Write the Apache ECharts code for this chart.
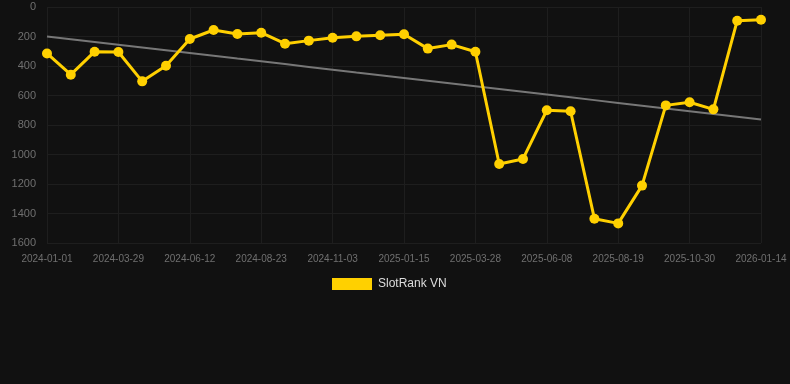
<!DOCTYPE html>
<html><head><meta charset="utf-8">
<script src="https://cdn.jsdelivr.net/npm/echarts@6/dist/echarts.min.js"></script>
<style>html,body{margin:0;padding:0;background:#111111;}#c{width:790px;height:384px;}</style>
</head><body><div id="c"></div>
<script>
const categories = ["2024-01-01","2024-01-30","2024-02-28","2024-03-29","2024-04-23","2024-05-18","2024-06-12","2024-07-06","2024-07-30","2024-08-23","2024-09-16","2024-10-10","2024-11-03","2024-11-27","2024-12-21","2025-01-15","2025-02-08","2025-03-04","2025-03-28","2025-04-21","2025-05-15","2025-06-08","2025-07-02","2025-07-26","2025-08-19","2025-09-12","2025-10-06","2025-10-30","2025-11-24","2025-12-19","2026-01-14"];
const seriesName = "SlotRank VN";
const rankValues = [315,459,303,305,504,398,217,156,183,174,249,228,208,199,192,185,282,255,303,1064,1030,700,707,1435,1467,1211,667,646,694,93,86];
const yTicks = [0,200,400,600,800,1000,1200,1400,1600];

// least-squares trend from the data
const n = rankValues.length;
const mx = (n - 1) / 2;
const my = rankValues.reduce((a, b) => a + b, 0) / n;
let sxy = 0, sxx = 0;
rankValues.forEach((v, i) => { sxy += (i - mx) * (v - my); sxx += (i - mx) * (i - mx); });
const slope = sxy / sxx;
const trend = rankValues.map((v, i) => +(my + slope * (i - mx)).toFixed(1));

const chart = echarts.init(document.getElementById('c'));
chart.setOption({
  backgroundColor: '#111111',
  animation: false,
  grid: { left: 47, right: 29, top: 7, bottom: 141 },
  legend: {
    data: [seriesName],
    top: 273,
    left: 327,
    itemWidth: 40,
    itemHeight: 12,
    itemGap: 10,
    icon: 'rect',
    textStyle: { color: '#dddddd', fontSize: 12, padding: [0, 0, 0, 1], fontFamily: 'Liberation Sans, Arial, sans-serif' }
  },
  xAxis: {
    type: 'category',
    data: categories,
    boundaryGap: false,
    axisLine: { show: false },
    axisTick: { show: false },
    axisLabel: { interval: 2, color: '#707070', fontSize: 10, margin: 11, fontFamily: 'Liberation Sans, Arial, sans-serif' },
    splitLine: { show: true, interval: 2, lineStyle: { color: '#1e1e1e', width: 1 } }
  },
  yAxis: {
    type: 'value',
    inverse: true,
    min: yTicks[0],
    max: yTicks[yTicks.length - 1],
    interval: 200,
    axisLine: { show: false },
    axisTick: { show: false },
    axisLabel: { color: '#707070', fontSize: 11, margin: 11, formatter: v => String(v), fontFamily: 'Liberation Sans, Arial, sans-serif' },
    splitLine: { show: true, lineStyle: { color: '#1e1e1e', width: 1 } }
  },
  series: [
    {
      name: seriesName,
      type: 'line',
      data: rankValues,
      symbol: 'circle',
      symbolSize: 10,
      lineStyle: { color: '#FFD000', width: 3 },
      itemStyle: { color: '#FFD000' },
      z: 3
    },
    {
      name: 'trend',
      type: 'line',
      data: trend,
      symbol: 'none',
      lineStyle: { color: '#777777', width: 2 },
      itemStyle: { color: '#777777' },
      z: 2
    }
  ]
});
</script>
</body></html>
